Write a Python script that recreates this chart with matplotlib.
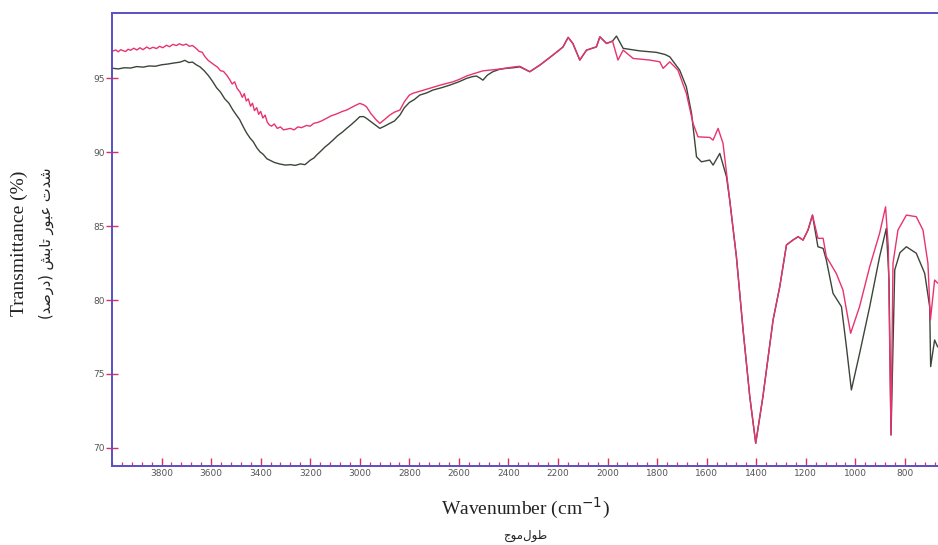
import matplotlib
matplotlib.use("Agg")
import matplotlib.pyplot as plt
from matplotlib.ticker import MultipleLocator, FixedLocator

# ---- data ----
wn_dark = [3995, 3975, 3950, 3925, 3900, 3875, 3850, 3825, 3800, 3775, 3750, 3725, 3706,
           3690, 3675, 3660, 3645, 3628, 3610, 3595, 3578, 3562, 3545, 3528, 3512, 3498,
           3485, 3470, 3457, 3443, 3430, 3416, 3403, 3390, 3375, 3363, 3345, 3322, 3300,
           3280, 3260, 3240, 3221, 3200, 3185, 3174, 3155, 3140, 3125, 3108, 3090, 3070,
           3053, 3035, 3018, 3000, 2985, 2973, 2955, 2935, 2919, 2900, 2879, 2860, 2838,
           2820, 2800, 2780, 2758, 2730, 2705, 2670, 2636, 2600, 2569, 2545, 2529, 2515,
           2503, 2485, 2463, 2435, 2408, 2380, 2354, 2314, 2273, 2221, 2180, 2159, 2140,
           2112, 2085, 2045, 2031, 2004, 1980, 1964, 1937, 1870, 1803, 1769, 1749, 1709,
           1682, 1661, 1641, 1621, 1588, 1574, 1547, 1520, 1507, 1480, 1453, 1426, 1402,
           1373, 1332, 1305, 1278, 1252, 1231, 1211, 1191, 1173, 1151, 1130, 1117, 1090,
           1056, 1036, 1016, 983, 942, 902, 875, 864, 856, 841, 820, 794, 754, 720, 700,
           696, 680, 668]
t_dark = [95.66, 95.62, 95.7, 95.68, 95.78, 95.74, 95.82, 95.8, 95.9, 95.95, 96.02, 96.08, 96.2,
          96.05, 96.08, 95.9, 95.76, 95.5, 95.15, 94.8, 94.35, 94.05, 93.6, 93.3, 92.84, 92.5,
          92.2, 91.7, 91.3, 90.95, 90.7, 90.3, 90.02, 89.85, 89.55, 89.45, 89.3, 89.19, 89.12,
          89.15, 89.1, 89.2, 89.15, 89.45, 89.6, 89.8, 90.1, 90.35, 90.55, 90.81, 91.1, 91.35,
          91.6, 91.85, 92.1, 92.39, 92.4, 92.28, 92.05, 91.8, 91.6, 91.75, 91.94, 92.1, 92.5,
          93.0, 93.35, 93.55, 93.85, 94.0, 94.19, 94.35, 94.53, 94.75, 94.98, 95.1, 95.14, 95.0,
          94.86, 95.2, 95.43, 95.6, 95.66, 95.7, 95.76, 95.43, 95.88, 96.55, 97.1, 97.75, 97.34,
          96.22, 96.89, 97.11, 97.79, 97.34, 97.5, 97.84, 97.01, 96.84, 96.74, 96.60, 96.44, 95.54,
          94.41, 92.61, 89.68, 89.34, 89.46, 89.12, 89.91, 88.33, 86.76, 82.93, 77.97, 73.47, 70.32,
          73.47, 78.65, 80.90, 83.72, 84.05, 84.28, 84.05, 84.73, 85.74, 83.60, 83.49, 82.70, 80.45,
          79.55, 76.84, 73.92, 76.37, 79.55, 82.93, 84.84, 81.35, 70.88, 82.03, 83.2, 83.60, 83.16,
          81.80, 79.55, 75.50, 77.30, 76.84]

wn_pink = [3995, 3985, 3975, 3965, 3955, 3945, 3935, 3925, 3912, 3900, 3887, 3875, 3860,
           3848, 3835, 3820, 3808, 3795, 3780, 3768, 3754, 3740, 3728, 3714, 3700, 3688,
           3675, 3660, 3648, 3636, 3625, 3612, 3600, 3588, 3575, 3562, 3550, 3537, 3525,
           3515, 3505, 3495, 3484, 3474, 3466, 3458, 3450, 3441, 3433, 3425, 3416, 3408,
           3400, 3391, 3382, 3374, 3366, 3356, 3345, 3333, 3320, 3308, 3295, 3280, 3265,
           3250, 3235, 3215, 3200, 3185, 3170, 3155, 3134, 3115, 3090, 3070, 3053, 3035,
           3018, 3000, 2985, 2973, 2955, 2935, 2919, 2900, 2879, 2860, 2838, 2820, 2800,
           2786, 2750, 2705, 2670, 2624, 2600, 2569, 2540, 2503, 2470, 2435, 2400, 2380,
           2354, 2314, 2273, 2221, 2180, 2159, 2140, 2112, 2085, 2045, 2031, 2004, 1980,
           1958, 1937, 1897, 1830, 1789, 1776, 1749, 1716, 1682, 1655, 1635, 1588, 1574,
           1554, 1534, 1507, 1480, 1453, 1426, 1402, 1373, 1332, 1305, 1278, 1252, 1231,
           1211, 1191, 1173, 1151, 1130, 1117, 1077, 1050, 1019, 983, 942, 902, 878, 867,
           856, 848, 828, 794, 754, 727, 707, 697, 680, 668]
t_pink = [96.84, 96.9, 96.78, 96.92, 96.85, 96.8, 96.95, 96.88, 97.02, 96.9, 97.05, 96.92, 97.1,
          96.98, 97.08, 97.0, 97.15, 97.05, 97.22, 97.12, 97.28, 97.2, 97.32, 97.22, 97.3, 97.15,
          97.2, 97.0, 96.8, 96.75, 96.45, 96.2, 96.05, 95.9, 95.75, 95.5, 95.45, 95.2, 94.9,
          94.6, 94.75, 94.3, 94.07, 93.7, 93.95, 93.45, 93.6, 93.1, 93.3, 92.8, 93.0, 92.55,
          92.75, 92.3, 92.5, 92.05, 91.85, 91.75, 91.9, 91.6, 91.7, 91.5, 91.55, 91.6, 91.5,
          91.7, 91.65, 91.8, 91.75, 91.95, 92.0, 92.1, 92.28, 92.45, 92.6, 92.75, 92.84, 93.0,
          93.15, 93.29, 93.2, 93.06, 92.6, 92.2, 91.94, 92.2, 92.5, 92.7, 92.84, 93.4, 93.85,
          93.97, 94.15, 94.37, 94.55, 94.75, 94.9, 95.14, 95.3, 95.49, 95.55, 95.61, 95.7, 95.75,
          95.8, 95.43, 95.88, 96.55, 97.1, 97.75, 97.34, 96.22, 96.89, 97.11, 97.79, 97.34, 97.5,
          96.22, 96.89, 96.33, 96.22, 96.10, 95.66, 96.10, 95.54, 93.97, 91.94, 91.03, 90.99, 90.81,
          91.60, 90.59, 86.76, 82.93, 77.97, 73.47, 70.32, 73.47, 78.65, 80.90, 83.72, 84.05, 84.28,
          84.05, 84.73, 85.74, 84.17, 84.17, 82.93, 81.80, 80.68, 77.75, 79.55, 82.25, 84.51, 86.30, 83.60,
          70.88, 82.48, 84.73, 85.74, 85.63, 84.73, 82.48, 78.65, 81.35, 81.15]

y_ticks = [70, 75, 80, 85, 90, 95]
x_ticks = [3800, 3600, 3400, 3200, 3000, 2800, 2600, 2400, 2200, 2000, 1800, 1600, 1400, 1200, 1000, 800]

xlabel = "Wavenumber (cm$^{-1}$)"
ylabel = "Transmittance (%)"
# Persian labels in presentation forms, visual order
ylabel_fa = "(\uFEAA\uFEBB\uFEAD\uFEA9) \uFEB6\uFE91\uFE8E\uFE97 \uFEAD\uFEEE\uFE92\uFECB \uFE95\uFEAA\uFEB7"
xlabel_fa = "\uFE9D\uFEEE\uFEE3\uFEDD\uFEEE\uFEC3"

axis_color = "#5a4fc4"
tick_color = "#e0305a"
dark_color = "#3b4639"
pink_color = "#e8336e"

fig = plt.figure(figsize=(9.38, 5.45), dpi=100)
ax = fig.add_axes([112 / 938, 79 / 545, 892 / 938, 453 / 545])

ax.plot(wn_dark, t_dark, color=dark_color, lw=1.0)
ax.plot(wn_pink, t_pink, color=pink_color, lw=1.0)

ax.set_xlim(4000, 400)
ax.set_ylim(68.78, 99.4)

for s in ["left", "top", "bottom", "right"]:
    ax.spines[s].set_color(axis_color)
    ax.spines[s].set_linewidth(1.4)

ax.yaxis.set_major_locator(FixedLocator(y_ticks))
ax.set_yticklabels([str(v) for v in y_ticks])
ax.xaxis.set_major_locator(FixedLocator(x_ticks))
ax.set_xticklabels([str(v) for v in x_ticks])
ax.xaxis.set_minor_locator(MultipleLocator(40))

ax.tick_params(axis="y", which="major", direction="inout", length=8, width=1.0,
               color=tick_color, labelcolor="#555555", labelsize=6.5, pad=1)
ax.tick_params(axis="x", which="major", direction="in", length=6, width=1.0,
               color=tick_color, labelcolor="#555555", labelsize=6.5, pad=2)
ax.tick_params(axis="x", which="minor", direction="in", length=3, width=0.9,
               color=tick_color)

fig.text(525 / 938, 1 - 508 / 545, xlabel, ha="center", va="center",
         family="Liberation Serif", fontsize=14, color="#222222")
fig.text(525 / 938, 1 - 535 / 545, xlabel_fa, ha="center", va="center",
         family="DejaVu Sans", fontsize=8.5, color="#222222")
fig.text(19 / 938, 1 - 243 / 545, ylabel, ha="center", va="center", rotation=90,
         family="Liberation Serif", fontsize=14, color="#222222")
fig.text(46 / 938, 1 - 243 / 545, ylabel_fa, ha="center", va="center", rotation=90,
         family="DejaVu Sans", fontsize=10.5, color="#222222")

fig.savefig("out.png", dpi=100)
